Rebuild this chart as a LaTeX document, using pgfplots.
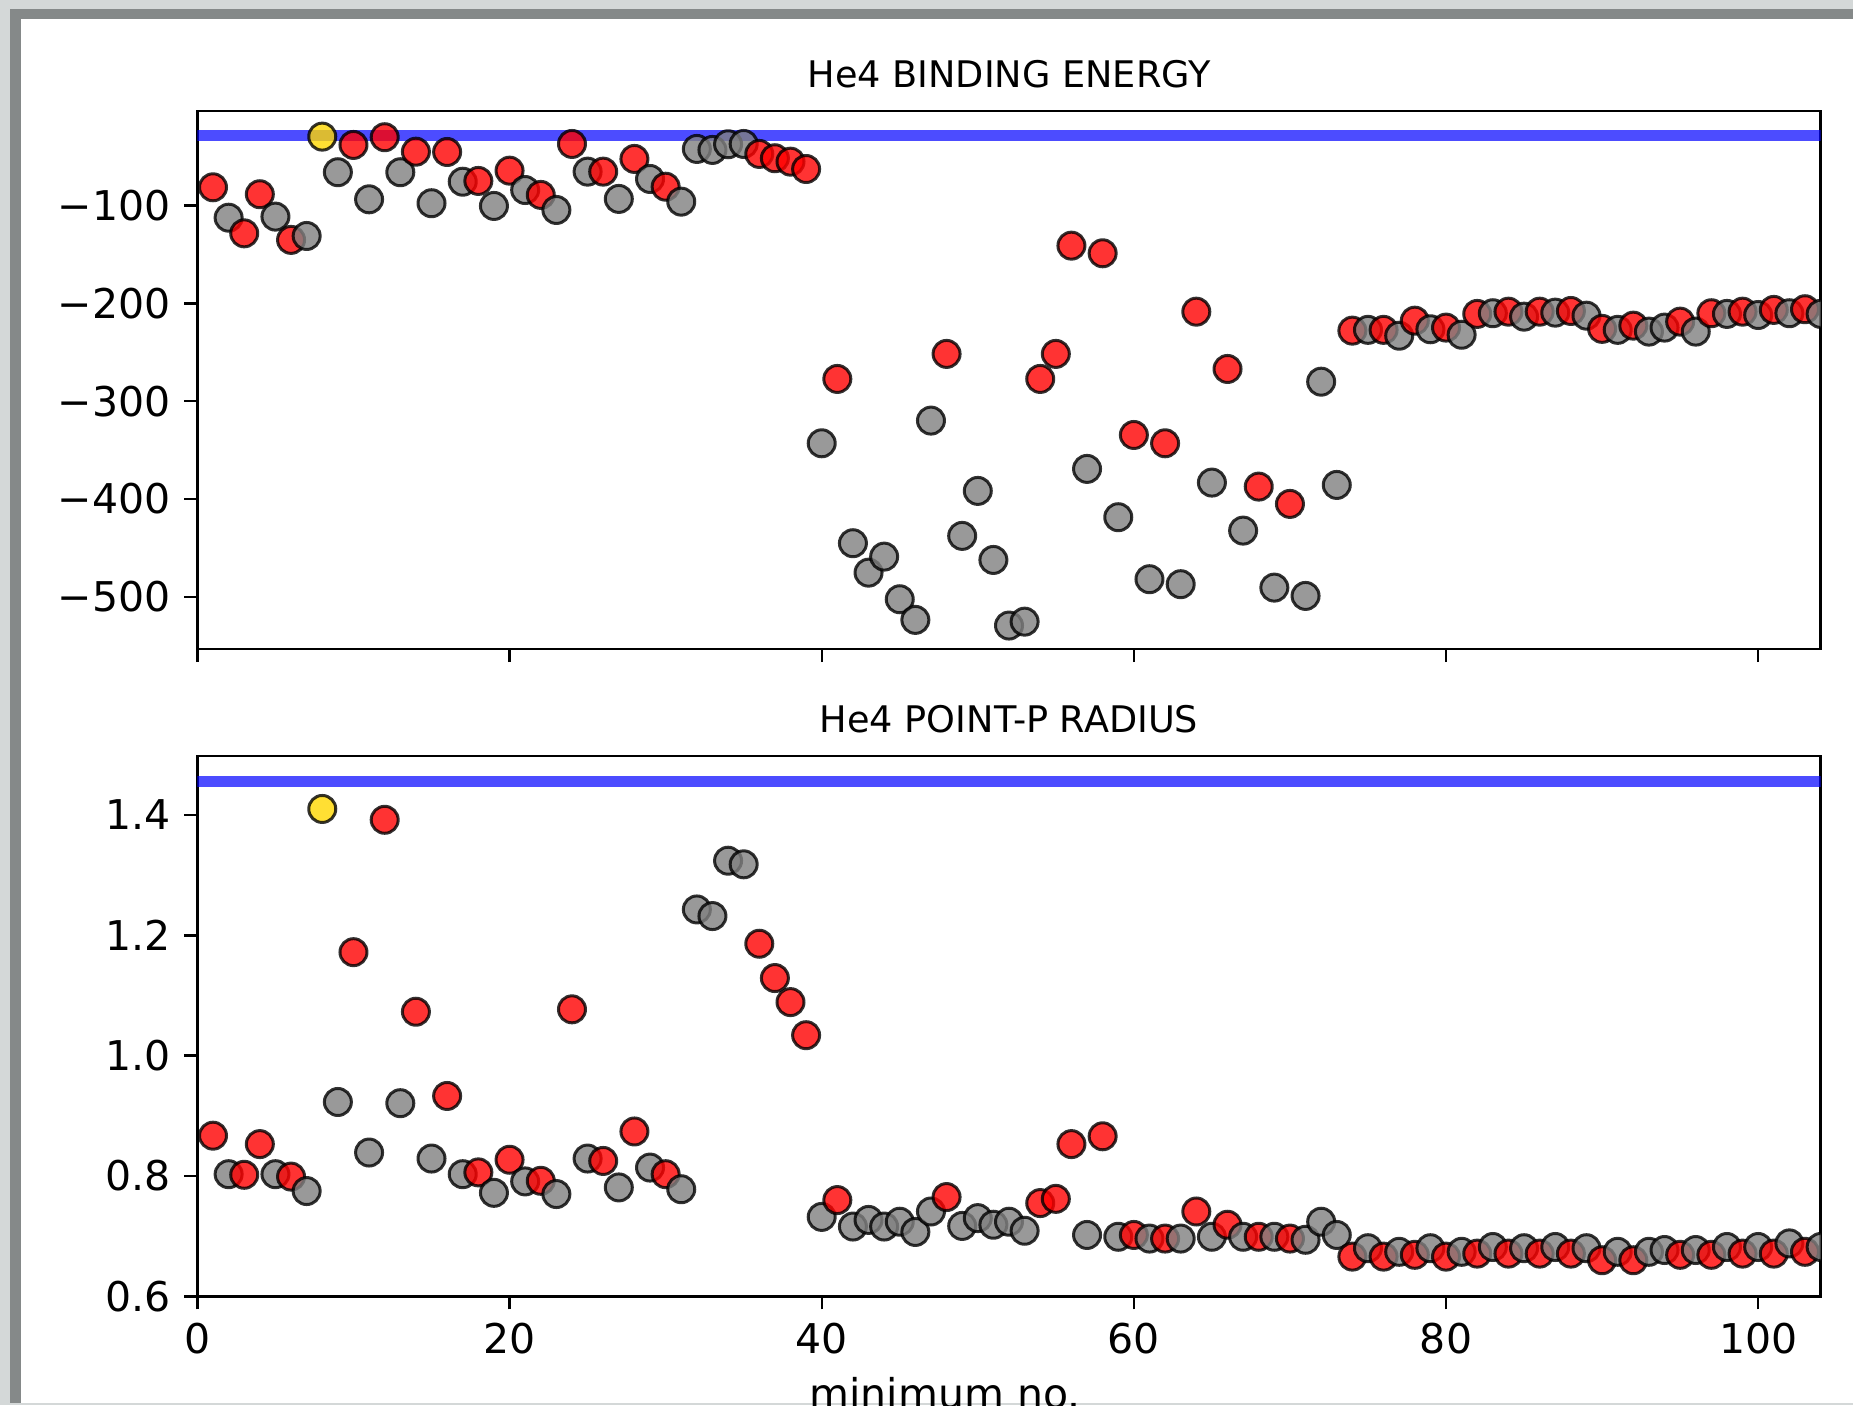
\documentclass[border=0pt]{standalone}
\usepackage{pgfplots}
\pgfplotsset{compat=1.18}
\usepackage{pgfplotstable}
\usepackage{fontspec}
\setmainfont{DejaVu Sans}
\definecolor{ptred}{RGB}{255,0,0}
\definecolor{ptgray}{RGB}{128,128,128}
\definecolor{ptgold}{RGB}{255,215,0}
\definecolor{frameLight}{RGB}{212,216,216}
\definecolor{frameDark}{RGB}{133,137,137}
\definecolor{refblue}{RGB}{0,0,255}

\pgfplotstableread{
x y c
1 -81.2 r
2 -112.3 g
3 -128.3 r
4 -88.3 r
5 -111.2 g
6 -135 r
7 -131 g
8 -29.4 o
9 -65.8 g
10 -37.9 r
11 -93.5 g
12 -30 r
13 -65.8 g
14 -44.8 r
15 -97.5 g
16 -45.1 r
17 -75.5 g
18 -74.7 r
19 -100.3 g
20 -64.2 r
21 -84 g
22 -89 r
23 -104.4 g
24 -36.9 r
25 -65.2 g
26 -65.2 r
27 -93.1 g
28 -52.2 r
29 -72.7 g
30 -80.6 r
31 -95.9 g
32 -42 g
33 -43 g
34 -37.2 g
35 -36.9 g
36 -47.1 r
37 -51.5 r
38 -55 r
39 -62.5 r
40 -343 g
41 -277.2 r
42 -445.2 g
43 -475.3 g
44 -458.9 g
45 -502.5 g
46 -523.6 g
47 -319.8 g
48 -251.6 r
49 -437.7 g
50 -391.7 g
51 -462.3 g
52 -529.4 g
53 -525.4 g
54 -277.2 r
55 -251.6 r
56 -140.9 r
57 -369.2 g
58 -148.7 r
59 -418.6 g
60 -334.5 r
61 -482 g
62 -343 r
63 -487.1 g
64 -208.4 r
65 -383.2 g
66 -267 r
67 -432.3 g
68 -387.3 r
69 -490.6 g
70 -405 r
71 -499.1 g
72 -280 g
73 -385.6 g
74 -227.8 r
75 -227 g
76 -227 r
77 -233 g
78 -217.6 r
79 -226.4 g
80 -224.7 r
81 -232 g
82 -210.7 r
83 -210 g
84 -208.4 r
85 -213.5 g
86 -208.4 r
87 -209.4 g
88 -207.7 r
89 -212.5 g
90 -226 r
91 -227 g
92 -222.7 r
93 -228.8 g
94 -224.7 g
95 -218.6 r
96 -228.8 g
97 -210 r
98 -210.7 g
99 -208.4 r
100 -211.8 g
101 -206.6 r
102 -210 g
103 -205.9 r
104 -210.7 g
}\energy

\pgfplotstableread{
x y c
1 0.867 r
2 0.803 g
3 0.802 r
4 0.853 r
5 0.803 g
6 0.799 r
7 0.775 g
8 1.410 o
9 0.923 g
10 1.172 r
11 0.839 g
12 1.392 r
13 0.921 g
14 1.073 r
15 0.829 g
16 0.933 r
17 0.803 g
18 0.806 r
19 0.772 g
20 0.827 r
21 0.791 g
22 0.792 r
23 0.770 g
24 1.077 r
25 0.829 g
26 0.825 r
27 0.781 g
28 0.874 r
29 0.814 g
30 0.803 r
31 0.778 g
32 1.243 g
33 1.232 g
34 1.324 g
35 1.318 g
36 1.186 r
37 1.129 r
38 1.089 r
39 1.034 r
40 0.732 g
41 0.760 r
42 0.716 g
43 0.727 g
44 0.716 g
45 0.724 g
46 0.707 g
47 0.741 g
48 0.765 r
49 0.717 g
50 0.730 g
51 0.719 g
52 0.724 g
53 0.709 g
54 0.755 r
55 0.762 r
56 0.853 r
57 0.702 g
58 0.866 r
59 0.699 g
60 0.702 r
61 0.696 g
62 0.696 r
63 0.696 g
64 0.741 r
65 0.699 g
66 0.719 r
67 0.699 g
68 0.699 r
69 0.699 g
70 0.696 r
71 0.694 g
72 0.724 g
73 0.702 g
74 0.666 r
75 0.680 g
76 0.666 r
77 0.674 g
78 0.669 r
79 0.680 g
80 0.666 r
81 0.674 g
82 0.671 r
83 0.682 g
84 0.671 r
85 0.680 g
86 0.671 r
87 0.682 g
88 0.671 r
89 0.680 g
90 0.660 r
91 0.674 g
92 0.660 r
93 0.674 g
94 0.677 g
95 0.669 r
96 0.677 g
97 0.669 r
98 0.682 g
99 0.671 r
100 0.682 g
101 0.671 r
102 0.688 g
103 0.674 r
104 0.682 g
}\radius

\pgfplotsset{
  panel/.style={
    scale only axis, width=405.8pt,
    xmin=0, xmax=104,
    axis line style={line width=0.6pt},
    tick style={line width=0.6pt, black},
    major tick length=3.25pt,
    tick align=outside, tick pos=left,
    xtick={0,20,40,60,80,100},
    ticklabel style={font=\fontsize{10.25}{12}\selectfont},
    title style={font=\fontsize{9.16}{11}\selectfont, at={(0.5,1)}, anchor=base, yshift=-0.1pt},
    clip marker paths=true,
  },
  pts/.style={
    scatter, only marks, mark=*, mark size=3.375pt,
    point meta=explicit symbolic,
    scatter/classes={
      r={mark=*, fill=ptred, draw=black},
      g={mark=*, fill=ptgray, draw=black},
      o={mark=*, fill=ptgold, draw=black}},
    mark options={line width=0.75pt, fill opacity=0.8, draw opacity=0.8},
  },
}

\begin{document}
\begin{tikzpicture}
\useasboundingbox (0,0) rectangle (463.25pt,-351.25pt);
\clip (0,0) rectangle (463.25pt,-351.25pt);
\fill[white] (0,0) rectangle (463.25pt,-351.25pt);
% screenshot frame
\fill[frameLight] (0,0) rectangle (463.25pt,-2.25pt);
\fill[frameLight] (0,0) rectangle (2.45pt,-351.25pt);
\fill[frameLight] (0,-350.75pt) rectangle (463.25pt,-351.25pt);
\fill[frameDark] (2.45pt,-2.25pt) rectangle (463.25pt,-4.8pt);
\fill[frameDark] (2.45pt,-2.25pt) rectangle (5.25pt,-350.75pt);

\begin{axis}[panel,
  at={(49.35pt,-27.75pt)}, anchor=north west,
  height=134.5pt,
  ymin=-553.4, ymax=-3.2,
  xticklabels={},
  ytick={-500,-400,-300,-200,-100},
  yticklabels={−500,−400,−300,−200,−100},
  title={He4 BINDING ENERGY},
]
\addplot[refblue, opacity=0.7, line width=2.75pt, forget plot] coordinates {(0,-28.3) (104,-28.3)};
\addplot[pts] table[x=x, y=y, meta=c] {\energy};
\end{axis}

\begin{axis}[panel,
  at={(49.35pt,-189pt)}, anchor=north west,
  height=135.075pt,
  ymin=0.6, ymax=1.498,
  xticklabels={0,20,40,60,80,100},
  ytick={0.6,0.8,1.0,1.2,1.4},
  yticklabels={0.6,0.8,1.0,1.2,1.4},
  title={He4 POINT-P RADIUS},
]
\addplot[refblue, opacity=0.7, line width=2.75pt, forget plot] coordinates {(0,1.455) (104,1.455)};
\addplot[pts] table[x=x, y=y, meta=c] {\radius};
\end{axis}

\node[anchor=base, font=\fontsize{10.25}{12}\selectfont, inner sep=0pt] at (236.25pt,-352pt) {minimum no.};
\end{tikzpicture}
\end{document}
